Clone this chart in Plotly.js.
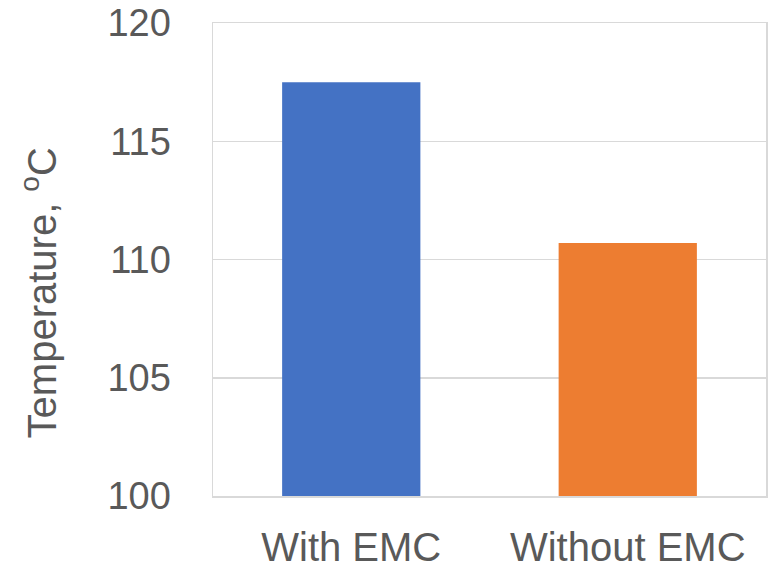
<!DOCTYPE html>
<html>
<head>
<meta charset="utf-8">
<script src="https://cdn.plot.ly/plotly-3.0.1.min.js"></script>
<style>
  html, body { margin: 0; padding: 0; background: #ffffff; }
  #chart { width: 772px; height: 567px; }
</style>
</head>
<body>
<div id="chart"></div>
<script>
// Measured temperatures for the two package configurations
const categories = ['With EMC', 'Without EMC'];
const temperatures = [117.5, 110.7];
const barColors = ['#4472C4', '#ED7D31'];
const yTickValues = [100, 105, 110, 115, 120];
const yTitle = 'Temperature, <sup>o</sup>C';

const textColor = '#595959';
const gridColor = '#D9D9D9';
const fontFamily = 'Arial, "Liberation Sans", sans-serif';

const trace = {
  type: 'bar',
  x: categories,
  y: temperatures,
  marker: { color: barColors, line: { width: 0 } },
  width: 0.5,
  hoverinfo: 'x+y'
};

const layout = {
  width: 772,
  height: 567,
  margin: { l: 213, r: 6, t: 23, b: 71, pad: 0 },
  paper_bgcolor: '#ffffff',
  plot_bgcolor: '#ffffff',
  showlegend: false,
  font: { family: fontFamily, color: textColor, size: 38 },
  xaxis: {
    type: 'category',
    showgrid: false,
    zeroline: false,
    showline: true,
    mirror: true,
    linecolor: gridColor,
    linewidth: 1.5,
    ticks: '',
    ticklabelstandoff: 15,
    tickfont: { family: fontFamily, color: textColor, size: 40 },
    automargin: false
  },
  yaxis: {
    range: [100, 120],
    tickvals: yTickValues,
    ticktext: yTickValues.map(String),
    showgrid: true,
    gridcolor: gridColor,
    gridwidth: 1.5,
    zeroline: false,
    showline: true,
    mirror: true,
    linecolor: gridColor,
    linewidth: 1.5,
    ticks: '',
    ticklabelstandoff: 33,
    tickfont: { family: fontFamily, color: textColor, size: 38 },
    automargin: false
  },
  // Vertical axis title, placed beside the tick labels
  annotations: [{
    text: yTitle,
    textangle: -90,
    xref: 'paper',
    yref: 'paper',
    x: -0.315,
    y: 0.43,
    xanchor: 'center',
    yanchor: 'middle',
    showarrow: false,
    font: { family: fontFamily, color: textColor, size: 40 }
  }]
};

Plotly.newPlot('chart', [trace], layout, { staticPlot: true, displayModeBar: false });
</script>
</body>
</html>
